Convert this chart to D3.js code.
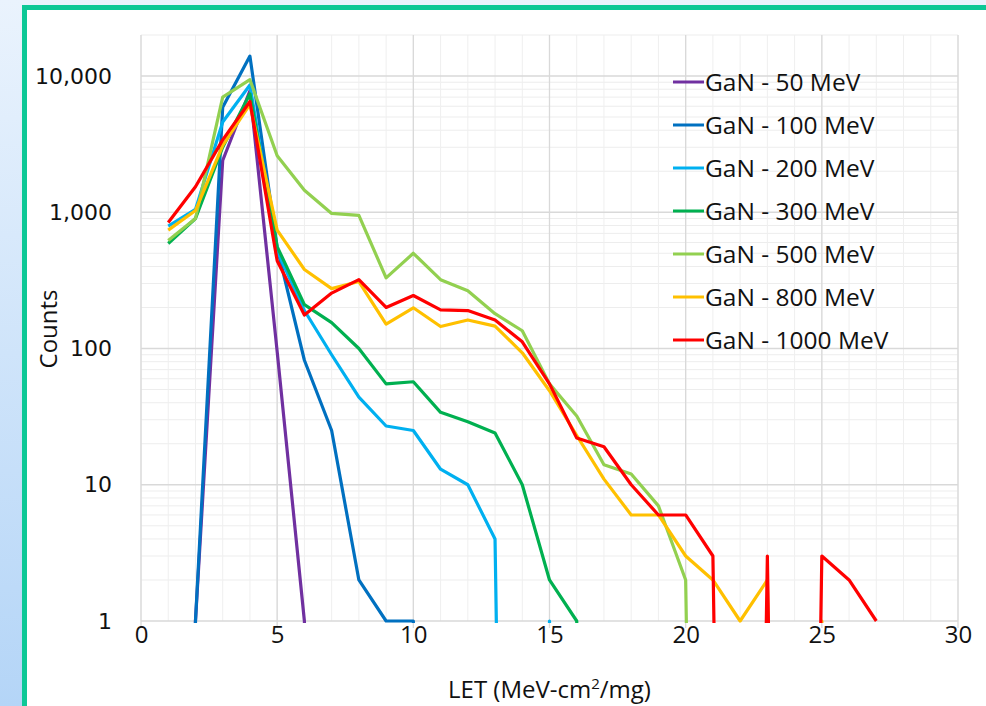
<!DOCTYPE html>
<html><head><meta charset="utf-8">
<script src="https://cdn.jsdelivr.net/npm/d3@7/dist/d3.min.js"></script>
<style>
html,body{margin:0;padding:0;}
body{width:986px;height:706px;overflow:hidden;background:linear-gradient(180deg,#eaf3fd 0%,#b4d5f7 100%);}
svg{display:block;}
</style></head><body>
<svg id="chart" width="986" height="706"></svg>
<script>
// LET bins (MeV-cm2/mg)
const letBins = [1,2,3,4,5,6,7,8,9,10,11,12,13,14,15,16,17,18,19,20,21,22,23,24,25,26,27];
const seriesNames = ["GaN - 50 MeV","GaN - 100 MeV","GaN - 200 MeV","GaN - 300 MeV","GaN - 500 MeV","GaN - 800 MeV","GaN - 1000 MeV"];
const seriesColors = ["#7030a0","#0070c0","#00b0f0","#00b050","#92d050","#ffc000","#ff0000"];
// counts per LET bin (0 = no counts)
const gan50   = [0,1,2400,7800,95,1,0,0,0,0,0,0,0,0,0,0,0,0,0,0,0,0,0,0,0,0,0];
const gan100  = [0,1,5900,14000,550,82,25,2,1,1,0,0,0,0,0,0,0,0,0,0,0,0,0,0,0,0,0];
const gan200  = [790,1050,4600,8600,520,190,90,44,27,25,13,10,4,0,1,0,0,0,0,0,0,0,0,0,0,0,0];
const gan300  = [590,900,3000,7400,560,210,155,100,55,57,34,29,24,10,2,1,0,0,0,0,0,0,0,0,0,0,0];
const gan500  = [620,900,7000,9400,2600,1450,980,950,330,500,320,265,180,135,55,32,14,12,7,2,0,0,0,0,0,0,0];
const gan800  = [740,1030,3100,6200,740,380,275,310,151,199,145,162,146,93,49,23,11,6,6,3,2,1,2,0,1,0,0];
const gan1000 = [840,1540,3400,6500,440,176,255,320,200,245,192,190,162,112,55,22,19,10,6,6,3,0,3,0,3,2,1];
const seriesValues = [gan50,gan100,gan200,gan300,gan500,gan800,gan1000];
const xTicks = [0,5,10,15,20,25,30];
const yTicks = [1,10,100,1000,10000];

const svg = d3.select("#chart");
const W = 986, H = 706;
const L = 141, R = 958, T = 35, B = 621;

// frame
svg.append("rect").attr("x",24.5).attr("y",7.5).attr("width",W).attr("height",H)
  .attr("fill","#ffffff").attr("stroke","#0cc896").attr("stroke-width",5);

const x = d3.scaleLinear().domain([0,30]).range([L,R]);
const y = d3.scaleLog().domain([1,20000]).range([B,T]);

const grid = svg.append("g");
// minor horizontal
const minorY = [];
for (let e=0;e<=4;e++) for (let m=2;m<=9;m++){ const v=m*Math.pow(10,e); if (v<=20000) minorY.push(v); }
grid.selectAll(".mh").data(minorY).enter().append("line")
  .attr("x1",L).attr("x2",R).attr("y1",d=>y(d)).attr("y2",d=>y(d))
  .attr("stroke","#ededed").attr("stroke-width",1);
// minor vertical
grid.selectAll(".mv").data(d3.range(0,31)).enter().append("line")
  .attr("x1",d=>x(d)).attr("x2",d=>x(d)).attr("y1",T).attr("y2",B)
  .attr("stroke","#efefef").attr("stroke-width",1);
// major horizontal
grid.selectAll(".Mh").data(yTicks).enter().append("line")
  .attr("x1",L).attr("x2",R).attr("y1",d=>y(d)).attr("y2",d=>y(d))
  .attr("stroke","#d9d9d9").attr("stroke-width",1.5);
// major vertical
grid.selectAll(".Mv").data(xTicks).enter().append("line")
  .attr("x1",d=>x(d)).attr("x2",d=>x(d)).attr("y1",T).attr("y2",B+7)
  .attr("stroke","#d9d9d9").attr("stroke-width",1.3);

// axes
const yAxis = d3.axisLeft(y).tickValues(yTicks).tickFormat(d3.format(",")).tickSize(0).tickPadding(29);
const gy = svg.append("g").attr("transform",`translate(${L},0)`).call(yAxis);
gy.select(".domain").remove();
gy.selectAll("text").attr("font-family","DejaVu Sans").attr("font-size","22px").attr("fill","#111");

const xAxis = d3.axisBottom(x).tickValues(xTicks).tickSize(0).tickPadding(5);
const gx = svg.append("g").attr("transform",`translate(0,${B})`).call(xAxis);
gx.select(".domain").remove();
gx.selectAll("text").attr("font-family","Open Sans").attr("font-size","24px").attr("fill","#111");

// clip
svg.append("clipPath").attr("id","clip").append("rect")
  .attr("x",L).attr("y",T-3).attr("width",R-L).attr("height",B-T+5);

const line = d3.line()
  .x((d,i)=>x(letBins[i]))
  .y(d=>d>0 ? y(d) : y(1e-12));

const lines = svg.append("g").attr("clip-path","url(#clip)");
seriesValues.forEach((vals,k)=>{
  lines.append("path").datum(vals).attr("d",line)
    .attr("fill","none").attr("stroke",seriesColors[k]).attr("stroke-width",3.2)
    .attr("stroke-linejoin","round").attr("stroke-linecap","butt");
});

// legend
const lg = svg.append("g");
seriesNames.forEach((nm,k)=>{
  const yy = 82 + k*43;
  lg.append("line").attr("x1",673).attr("x2",704).attr("y1",yy).attr("y2",yy)
    .attr("stroke",seriesColors[k]).attr("stroke-width",3);
  lg.append("text").attr("x",705).attr("y",yy).attr("dy","0.36em")
    .attr("font-family","Open Sans").attr("font-size","24.5px").attr("fill","#111").text(nm);
});

// axis titles
const xt = svg.append("text").attr("x",(L+R)/2).attr("y",698).attr("text-anchor","middle")
  .attr("font-family","Open Sans").attr("font-size","24px").attr("fill","#111");
xt.append("tspan").text("LET (MeV-cm");
xt.append("tspan").attr("dy","-9").attr("font-size","15px").text("2");
xt.append("tspan").attr("dy","9").text("/mg)");

svg.append("text").attr("transform","translate(57,329) rotate(-90)").attr("text-anchor","middle")
  .attr("font-family","Open Sans").attr("font-size","24px").attr("fill","#111").text("Counts");
</script>
</body></html>
